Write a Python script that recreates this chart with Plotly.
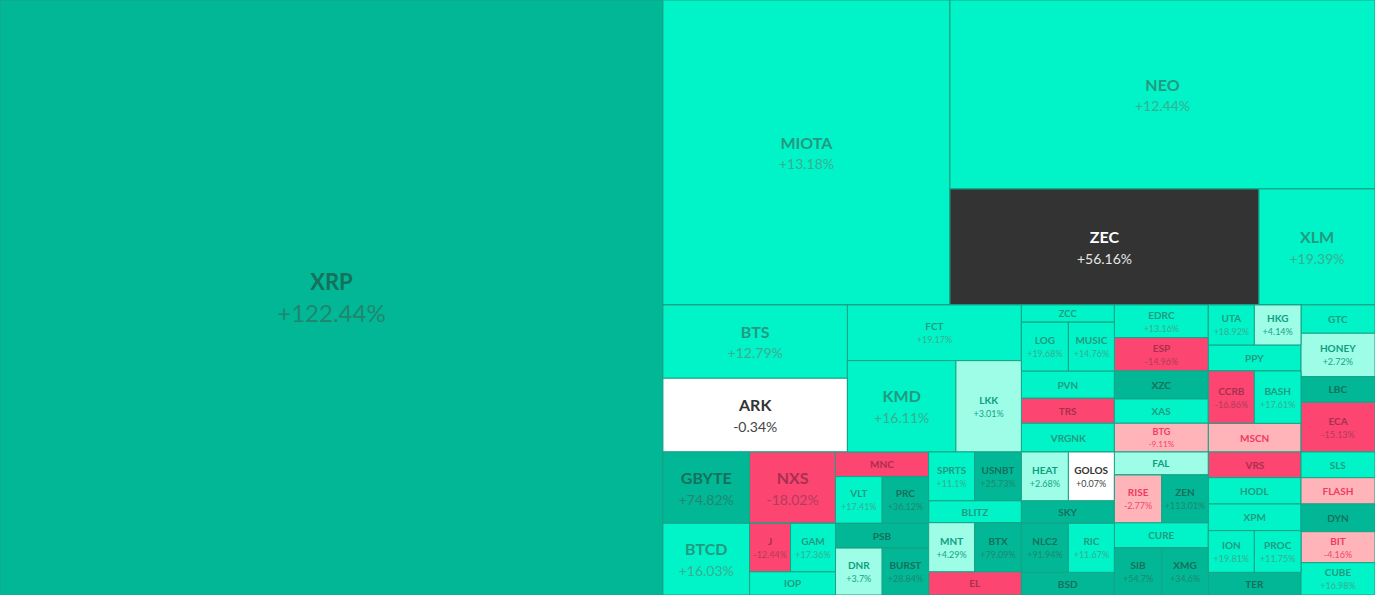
import plotly.graph_objects as go

# ---------------- data ----------------
symbols = ["XRP", "MIOTA", "NEO", "ZEC", "XLM",
           "BTS", "ARK", "FCT", "KMD", "LKK",
           "GBYTE", "BTCD", "NXS", "J", "GAM", "IOP",
           "MNC", "VLT", "PRC", "PSB", "DNR", "BURST",
           "SPRTS", "USNBT", "BLITZ", "MNT", "BTX", "EL",
           "ZCC", "LOG", "MUSIC", "PVN", "TRS", "VRGNK",
           "EDRC", "ESP", "XZC", "XAS", "BTG",
           "UTA", "HKG", "PPY", "CCRB", "BASH", "MSCN",
           "GTC", "HONEY", "LBC", "ECA",
           "HEAT", "GOLOS", "SKY", "NLC2", "RIC", "BSD",
           "FAL", "RISE", "ZEN", "CURE", "SIB", "XMG",
           "VRS", "HODL", "XPM", "ION", "PROC", "TER",
           "SLS", "FLASH", "DYN", "BIT", "CUBE"]

market_size = [394485, 87535, 80325, 35844, 13456,
               13524, 13598, 9692, 9906, 5980,
               6182, 6216, 6132, 1980, 2174, 2004,
               2297, 2172, 2162, 2325, 2190, 2181,
               2240, 2279, 2042, 2254, 2293, 2162,
               1609, 2289, 2240, 2539, 2325, 2669,
               3074, 3130, 2632, 2284, 2698,
               1840, 1868, 2410, 2406, 2442, 2660,
               2094, 3212, 1894, 3678,
               2289, 2240, 2102, 2303, 2254, 2111,
               2162, 2261, 2223, 2350, 2242, 2204,
               2382, 2438, 2475, 1914, 1943, 2104,
               1902, 1946, 2050, 2294, 2390]

change_pct = [122.44, 13.18, 12.44, 56.16, 19.39,
              12.79, -0.34, 19.17, 16.11, 3.01,
              74.82, 16.03, -18.02, -12.44, 17.36, 15.0,
              -12.0, 17.41, 36.12, 30.0, 3.7, 28.84,
              11.1, 25.73, 14.0, 4.29, 79.09, -13.0,
              10.0, 19.68, 14.76, 9.0, -11.0, 8.0,
              13.16, -14.96, 33.0, 12.0, -9.11,
              18.92, 4.14, 9.0, -16.86, 17.61, -6.0,
              10.0, 2.72, 26.0, -15.13,
              2.68, 0.07, 30.0, 91.94, 11.67, 27.0,
              3.5, -2.77, 113.01, 10.0, 54.7, 34.6,
              -13.0, 15.0, 12.0, 19.81, 11.75, 40.0,
              8.0, -5.0, 27.0, -4.16, 16.98]

# symbols whose change is printed in the tile
change_printed = {"XRP", "MIOTA", "NEO", "ZEC", "XLM", "BTS", "ARK", "FCT", "KMD", "LKK",
                  "GBYTE", "BTCD", "NXS", "J", "GAM", "VLT", "PRC", "DNR", "BURST",
                  "SPRTS", "USNBT", "MNT", "BTX", "LOG", "MUSIC", "EDRC", "ESP", "BTG",
                  "UTA", "HKG", "CCRB", "BASH", "HONEY", "ECA", "HEAT", "GOLOS", "NLC2",
                  "RIC", "RISE", "ZEN", "SIB", "XMG", "ION", "PROC", "BIT", "CUBE"}

selected = "ZEC"

# grouping of tiles (nested lists alternate horizontal / vertical splitting)
grouping = [
    "XRP",
    [
        ["MIOTA", ["NEO", ["ZEC", "XLM"]]],
        [
            [
                [["BTS", "ARK"], ["FCT", ["KMD", "LKK"]]],
                [["GBYTE", "BTCD"],
                 ["NXS", [[["J", "GAM"], "IOP"]]],
                 ["MNC", ["VLT", "PRC"], "PSB", ["DNR", "BURST"]],
                 [["SPRTS", "USNBT"], "BLITZ", ["MNT", "BTX"], "EL"]],
            ],
            [
                [["ZCC", ["LOG", "MUSIC"], "PVN", "TRS", "VRGNK"],
                 ["EDRC", "ESP", "XZC", "XAS", "BTG"],
                 [["UTA", "HKG"], "PPY", ["CCRB", "BASH"], "MSCN"],
                 ["GTC", "HONEY", "LBC", "ECA"]],
                [[["HEAT", "GOLOS"], "SKY", ["NLC2", "RIC"], "BSD"],
                 ["FAL", ["RISE", "ZEN"], "CURE", ["SIB", "XMG"]],
                 ["VRS", "HODL", "XPM", ["ION", "PROC"], "TER"],
                 ["SLS", "FLASH", "DYN", "BIT", "CUBE"]],
            ],
        ],
    ],
]

# ---------------- styling ----------------
BIG = {"MIOTA", "NEO", "ZEC", "XLM", "BTS", "ARK", "KMD", "GBYTE", "NXS", "BTCD"}
HUGE = {"XRP"}


def palette(sym, c):
    # (background, label colour, change colour)
    if sym == selected:
        return "#333333", "#ffffff", "#e6e6e6"
    if c <= -10:
        return "#fd4571", "#a8304f", "#b33c5b"
    if c < -1:
        return "#ffb4b9", "#f2395f", "#f0486b"
    if c < 1:
        return "#ffffff", "#333333", "#444444"
    if c < 5:
        return "#9dfde6", "#0c9f81", "#14a587"
    if c < 25:
        return "#00f4c8", "#239a80", "#3aae91"
    return "#02b795", "#15705c", "#1f8770"


info = {s: (v, c) for s, v, c in zip(symbols, market_size, change_pct)}

ids, labels, parents, values, colors, texts, sizes, tcolors = [], [], [], [], [], [], [], []
counter = [0]


def add(node, parent):
    if isinstance(node, str):
        v, c = info[node]
        bg, lc, pc = palette(node, c)
        if node in HUGE:
            ls, ps, base = 22, 24, 25
        elif node in BIG:
            ls, ps, base = 16, 14, 16
        else:
            ls, ps, base = 10, 9, 10
        t = f"<b><span style='font-size:{ls}px;color:{lc}'>{node}</span></b>"
        if node in change_printed:
            t += f"<br><span style='font-size:{ps}px;color:{pc}'>{c:+g}%</span>"
        ids.append(node); labels.append(node); parents.append(parent)
        values.append(v); colors.append(bg); texts.append(t)
        sizes.append(base); tcolors.append(lc)
        return
    counter[0] += 1
    gid = f"group{counter[0]}"
    ids.append(gid); labels.append(""); parents.append(parent)
    values.append(0); colors.append("#00f4c8"); texts.append("")
    sizes.append(10); tcolors.append("#239a80")
    for child in node:
        add(child, gid)


add(grouping, "")

fig = go.Figure(go.Treemap(
    ids=ids,
    labels=labels,
    parents=parents,
    values=values,
    branchvalues="remainder",
    sort=False,
    text=texts,
    texttemplate="%{text}",
    textposition="middle center",
    textfont=dict(family="Lato", size=sizes, color=tcolors),
    marker=dict(colors=colors, line=dict(color="#17a386", width=1),
                pad=dict(t=0, l=0, r=0, b=0)),
    tiling=dict(packing="slice-dice", pad=0),
    pathbar=dict(visible=False),
    hoverinfo="none",
))

fig.update_layout(
    width=1375, height=595,
    margin=dict(l=0, r=0, t=0, b=0),
    paper_bgcolor="#ffffff",
    font=dict(family="Lato"),
    hovermode=False,
)

fig.write_html("out.html")
